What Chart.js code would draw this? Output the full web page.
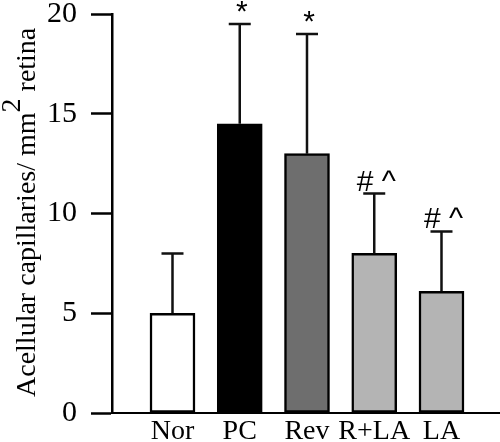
<!DOCTYPE html>
<html>
<head>
<meta charset="utf-8">
<script src="https://cdn.jsdelivr.net/npm/chart.js@4"></script>
<style>
  html, body { margin: 0; padding: 0; background: #fff; }
  #wrap { width: 500px; height: 442px; }
</style>
</head>
<body>
<div id="wrap"><canvas id="bar-chart"></canvas></div>
<script>
const categories = ['Nor', 'PC', 'Rev', 'R+LA', 'LA'];
const means = [5, 14.5, 13, 8, 6.1];
const errors = [3, 5, 6, 3, 3];
const marks = ['', '*', '*', '# ^', '# ^'];
const yTicks = [0, 5, 10, 15, 20];
const barColors = ['#ffffff', '#000000', '#6e6e6e', '#b4b4b4', '#b4b4b4'];

const serif = "'Liberation Serif', 'Times New Roman', serif";
const sans = "'Liberation Sans', Arial, sans-serif";

// error bars (upward only) plus the significance marks above them
const errorBarPlugin = {
    id: 'errorBars',
    afterDatasetsDraw(chart) {
        const ctx = chart.ctx;
        const yScale = chart.scales.y;
        const meta = chart.getDatasetMeta(0);
        ctx.save();
        ctx.strokeStyle = '#111';
        ctx.lineWidth = 2.5;
        meta.data.forEach((bar, i) => {
            const top = yScale.getPixelForValue(means[i] + errors[i]);
            ctx.beginPath();
            ctx.moveTo(bar.x, bar.y);
            ctx.lineTo(bar.x, top);
            ctx.moveTo(bar.x - 11, top);
            ctx.lineTo(bar.x + 11, top);
            ctx.stroke();
            if (marks[i]) {
                ctx.fillStyle = '#000';
                ctx.font = '30px ' + sans;
                ctx.textAlign = 'center';
                ctx.textBaseline = 'alphabetic';
                ctx.fillText(marks[i], bar.x + 2, top - 3);
            }
        });
        ctx.restore();
    }
};

// rotated y title with a raised "2"
const yTitlePlugin = {
    id: 'yTitle',
    afterDraw(chart) {
        const ctx = chart.ctx;
        ctx.save();
        ctx.translate(35, 397);
        ctx.rotate(-Math.PI / 2);
        ctx.fillStyle = '#000';
        ctx.font = '28px ' + serif;
        ctx.textAlign = 'left';
        ctx.textBaseline = 'alphabetic';
        let part1 = 'Acellular capillaries/ mm';
        ctx.fillText(part1, 0, 0);
        let x = ctx.measureText(part1).width;
        ctx.fillText('2', x, -15);
        x += ctx.measureText('2').width;
        ctx.fillText(' retina', x, 0);
        ctx.restore();
    }
};

let ctx = document.getElementById('bar-chart');
new Chart(ctx, {
    type: 'bar',
    data: {
        datasets: [{
            data: means.map((m, i) => ({ x: i + 1, y: m })),
            backgroundColor: barColors,
            borderColor: '#000',
            borderWidth: 2.5,
            borderSkipped: false,
            barThickness: 45,
        }]
    },
    options: {
        responsive: true,
        maintainAspectRatio: false,
        animation: false,
        devicePixelRatio: 1,
        layout: { padding: { top: 14, left: 0, right: 0, bottom: 0 } },
        plugins: {
            legend: { display: false },
            tooltip: { enabled: false },
        },
        scales: {
            x: {
                type: 'linear',
                offset: false,
                min: 0.1004,
                max: 5.87,
                grid: { display: false, offset: false },
                border: { display: true, color: '#000', width: 2 },
                afterBuildTicks: scale => {
                    scale.ticks = categories.map((c, i) => ({ value: i + 1 }));
                },
                afterFit: scale => {
                    scale.height = 29;
                    scale.paddingLeft = 0;
                    scale.paddingRight = 0;
                },
                ticks: {
                    autoSkip: false,
                    maxRotation: 0,
                    padding: -3,
                    color: '#000',
                    font: { family: serif, size: 28, lineHeight: 1 },
                    callback: v => categories[v - 1],
                },
            },
            y: {
                min: 0,
                max: 20,
                afterBuildTicks: scale => {
                    scale.ticks = yTicks.map(v => ({ value: v }));
                },
                afterFit: scale => {
                    scale.width = 112;
                    scale.paddingTop = 0;
                    scale.paddingBottom = 0;
                },
                grid: {
                    drawOnChartArea: false,
                    drawTicks: true,
                    tickLength: 21,
                    tickWidth: 2.5,
                    color: '#000',
                },
                border: { display: true, color: '#000', width: 2.5 },
                ticks: {
                    padding: 14,
                    color: '#000',
                    font: { family: serif, size: 30, lineHeight: 1 },
                },
            },
        },
    },
    plugins: [errorBarPlugin, yTitlePlugin],
});
</script>
</body>
</html>
